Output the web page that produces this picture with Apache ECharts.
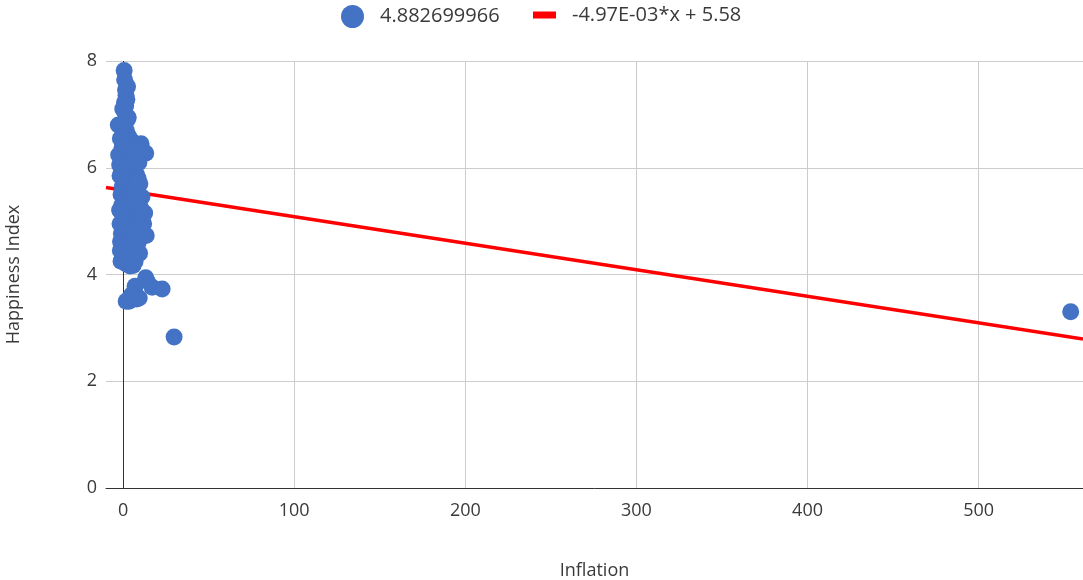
<!DOCTYPE html>
<html>
<head>
<meta charset="utf-8">
<script src="https://cdn.jsdelivr.net/npm/echarts@6/dist/echarts.min.js"></script>
<style>
  html, body { margin: 0; padding: 0; background: #fff; }
  #chart { width: 1083px; height: 580px; }
</style>
</head>
<body>
<div id="chart"></div>
<script>
// Inflation (x) and happiness score (y) per country
const inflation = [
  0.6, 0.9, 2.6, 1.4, 1.7, 2.2, 0.8, 1.5, -0.2, 1.1, 3.0, 2.4, -2.8, 0.4, 1.9, 1.2, 3.4, 5.0,
  10.5, 13.2, 8.6, 11.4, 6.0, 0.2, -0.6, 2.1, 4.1, 7.2, -2.6, 1.0, 3.2, 5.6, -1.4, 2.8, 0.5, 6.4,
  1.6, -0.9, 3.9, 7.8, 2.3, 0.1, 5.1, 1.2, 9.8, 3.6, -0.5, 6.8, 2.0, 0.8, 4.4, -1.2, 2.9, 1.5,
  5.8, 0.3, 3.3, -0.7, 7.0, 2.2, -2.0, 1.0, 12.6, 9.0, 4.6, 0.2, 6.2, 2.6, -0.4, 8.4, 3.8, 1.4,
  5.4, 0.0, 10.4, 2.8, -1.0, 13.5, 4.2, 1.8, 6.6, -1.5, 3.0, 0.6, 7.6, 2.0, 4.8, -0.3, 5.4, 1.2,
  4.6, -0.6, 3.2, 1.6, 4.0, 0.4, 2.4, 11.0, 8.0,
  6.5, 8.2, 9.5, 7.4, 8.8, 6.0, 9.6, 7.0, 5.8, -1.8, -1.8, -1.6, -1.2, -1.8, -1.6, -2.0, 11.0,
  10.2, 8.8, 9.2, 12.0,
  13.2, 14.0, 7.0, 17.0, 22.8, 9.4, 8.0, 3.5, 1.8, 5.0, 4.2, 29.8, 553.8
];
const happiness = [
  7.82, 7.65, 7.52, 7.46, 7.36, 7.28, 7.22, 7.16, 7.10, 7.04, 6.94, 6.90, 6.80, 6.76, 6.70, 6.62, 6.58, 6.50,
  6.45, 6.27, 6.40, 6.33, 6.42, 6.44, 6.38, 6.36, 6.33, 6.31, 6.24, 6.22, 6.18, 6.15, 6.10, 6.08, 6.03, 6.00,
  5.97, 5.93, 5.90, 5.88, 5.84, 5.80, 5.77, 5.74, 5.70, 5.68, 5.65, 5.62, 5.60, 5.56, 5.53, 5.50, 5.47, 5.44,
  5.40, 5.37, 5.33, 5.30, 5.27, 5.24, 5.21, 5.18, 5.15, 5.14, 5.12, 5.08, 5.05, 5.02, 4.98, 4.96, 4.93, 4.90,
  4.87, 4.84, 4.82, 4.80, 4.77, 4.73, 4.72, 4.70, 4.66, 4.62, 4.60, 4.56, 4.53, 4.50, 4.46, 4.42, 4.38, 4.35,
  4.32, 4.30, 4.24, 4.20, 4.16, 4.40, 4.28, 5.05, 4.90,
  5.55, 5.35, 5.00, 4.78, 4.60, 4.45, 4.40, 4.25, 4.17, 5.20, 4.95, 4.45, 4.25, 5.85, 6.55, 6.05, 5.45,
  5.25, 5.80, 6.10, 4.95,
  3.94, 3.88, 3.78, 3.76, 3.73, 3.56, 3.54, 3.50, 3.50, 3.62, 3.58, 2.83, 3.30
];

// Linear trend fitted to the points
const trendSlope = -4.97e-3;
const trendIntercept = 5.58;

const scatterName = '4.882699966';
const trendName = '-4.97E-03*x + 5.58';
const xTickLabels = [0, 100, 200, 300, 400, 500];
const yTickLabels = [0, 2, 4, 6, 8];

// Horizontal extent of the plot (the trend line spans all of it)
const xMin = -10, xMax = 561, xStep = 10;
const FONT = '"Open Sans", "Noto Sans", sans-serif';
const TEXT = '#3a3a3a';

// Vertical grid: dark line at x = 0, light lines at the labelled ticks
const xGridColors = [];
for (let v = xMin; v <= xMax; v += xStep) {
  xGridColors.push(v === 0 ? '#333333' : (xTickLabels.indexOf(v) >= 0 ? '#cccccc' : 'rgba(0,0,0,0)'));
}

const points = inflation.map((x, i) => [x, happiness[i]]);
const trend = [xMin, xMax].map(x => [x, trendSlope * x + trendIntercept]);

const chart = echarts.init(document.getElementById('chart'), null, { renderer: 'canvas' });
chart.setOption({
  animation: false,
  textStyle: { fontFamily: FONT },
  legend: [
    {
      data: [{ name: scatterName, icon: 'circle' }],
      left: 341, top: 5, padding: 0,
      itemWidth: 23, itemHeight: 23,
      textStyle: { fontSize: 20, color: TEXT, fontFamily: FONT, padding: [0, 0, 3, 11] }
    },
    {
      data: [{ name: trendName, icon: 'rect' }],
      left: 533, top: 5, padding: 0,
      itemWidth: 23, itemHeight: 7,
      textStyle: { fontSize: 20, color: TEXT, fontFamily: FONT, padding: [0, 0, 0, 11] }
    }
  ],
  grid: { left: 106, right: 0, top: 61, bottom: 92, containLabel: false, outerBoundsMode: 'none' },
  xAxis: {
    type: 'value',
    min: xMin, max: xMax, interval: xStep,
    name: 'Inflation', nameLocation: 'middle', nameGap: 74,
    nameTextStyle: { fontSize: 18, color: TEXT, fontFamily: FONT },
    axisLine: { show: true, lineStyle: { color: '#333', width: 1 } },
    axisTick: { show: false },
    axisLabel: {
      fontSize: 18, color: TEXT, fontFamily: FONT, margin: 14,
      showMaxLabel: false,
      formatter: v => (xTickLabels.indexOf(v) >= 0 ? String(v) : '')
    },
    splitLine: { show: true, lineStyle: { color: xGridColors, width: 1 } }
  },
  yAxis: {
    type: 'value',
    min: yTickLabels[0], max: yTickLabels[yTickLabels.length - 1], interval: 2,
    name: 'Happiness Index', nameLocation: 'middle', nameGap: 83, nameRotate: 90,
    nameTextStyle: { fontSize: 18, color: TEXT, fontFamily: FONT },
    axisLine: { show: false },
    axisTick: { show: false },
    axisLabel: { fontSize: 18, color: TEXT, fontFamily: FONT, margin: 9 },
    splitLine: { show: true, lineStyle: { color: '#cccccc', width: 1 } }
  },
  series: [
    {
      name: trendName,
      type: 'line',
      data: trend,
      symbol: 'none',
      lineStyle: { color: '#ff0000', width: 3.5 },
      itemStyle: { color: '#ff0000' },
      z: 2
    },
    {
      name: scatterName,
      type: 'scatter',
      data: points,
      symbolSize: 17,
      itemStyle: { color: '#4472C4', opacity: 1 },
      z: 3
    }
  ]
});
</script>
</body>
</html>
